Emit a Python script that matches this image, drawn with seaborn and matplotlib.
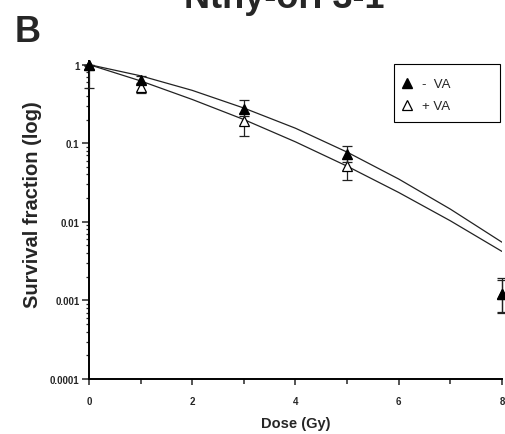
import matplotlib
matplotlib.use("Agg")
import matplotlib.pyplot as plt
from matplotlib.lines import Line2D
from matplotlib.patches import Rectangle
from matplotlib.ticker import LogLocator, NullFormatter, MultipleLocator
import seaborn as sns

sns.set_style("ticks")
plt.rcParams['font.family'] = ['Liberation Sans', 'DejaVu Sans']
narrow = ['Liberation Sans Narrow', 'Liberation Sans', 'DejaVu Sans']

# measured points (mean, lower / upper error)
dose = [0, 1, 3, 5, 8]
minus_va = [1.0, 0.64, 0.27, 0.073, 0.00122]
minus_lo = [0.04, 0.07, 0.05, 0.015, 0.0005]
minus_hi = [0.0, 0.07, 0.08, 0.02, 0.0007]
plus_va = [1.0, 0.52, 0.19, 0.051, 0.0012]
plus_lo = [0.5, 0.08, 0.065, 0.017, 0.0005]
plus_hi = [0.0, 0.06, 0.05, 0.012, 0.0006]

# fitted curves at each Gy
fit_dose = [0, 1, 2, 3, 4, 5, 6, 7, 8]
fit_minus = [1.0, 0.72, 0.47, 0.28, 0.155, 0.077, 0.035, 0.0145, 0.0055]
fit_plus = [1.0, 0.62, 0.36, 0.20, 0.104, 0.051, 0.0236, 0.0103, 0.0042]

yticks = [1, 0.1, 0.01, 0.001, 0.0001]
ytick_labels = ['1', '0.1', '0.01', '0.001', '0.0001']
xticks = [0, 2, 4, 6, 8]

fig = plt.figure(figsize=(5.05, 4.35), dpi=100)
ax = fig.add_axes([0.1762, 0.1264, 0.8178, 0.731])

sns.lineplot(x=fit_dose, y=fit_minus, ax=ax, color='#222222', lw=0.9)
sns.lineplot(x=fit_dose, y=fit_plus, ax=ax, color='#222222', lw=0.9)

# +VA first so the filled triangles sit on top
ax.errorbar(dose, plus_va, yerr=[plus_lo, plus_hi], fmt='^', ms=7, mfc='white',
            mec='black', mew=0.9, ecolor='#222222', elinewidth=0.9, capsize=3.6,
            capthick=0.9, clip_on=False, zorder=3)
ax.errorbar(dose, minus_va, yerr=[minus_lo, minus_hi], fmt='^', ms=7, mfc='black',
            mec='black', mew=0.9, ecolor='#222222', elinewidth=0.9, capsize=3.6,
            capthick=0.9, clip_on=False, zorder=4)

ax.set_yscale('log')
ax.set_ylim(1e-4, 1.11)
ax.set_xlim(0, 8)
ax.set_yticks(yticks)
ax.set_yticklabels(ytick_labels)
ax.yaxis.set_minor_locator(LogLocator(base=10, subs=range(2, 10)))
ax.yaxis.set_minor_formatter(NullFormatter())
ax.set_xticks(xticks)
ax.xaxis.set_minor_locator(MultipleLocator(1))

for lab in ax.get_xticklabels() + ax.get_yticklabels():
    lab.set_family(narrow)
    lab.set_fontweight('bold')
    lab.set_fontsize(7)

ax.tick_params(axis='y', which='major', length=5.4, width=1.1, pad=1.5, direction='out')
ax.tick_params(axis='y', which='minor', length=2.4, width=0.9, direction='out')
ax.tick_params(axis='x', which='major', length=4.3, width=1.1, pad=8, direction='out')
ax.tick_params(axis='x', which='minor', length=3.4, width=1.1, direction='out')

sns.despine(ax=ax)
for side in ['left', 'bottom']:
    ax.spines[side].set_linewidth(1.4)
    ax.spines[side].set_color('black')

ax.set_xlabel('Dose (Gy)', family=narrow, fontweight='bold', fontsize=10.5, labelpad=7)
fig.text(33 / 505, 1 - 205 / 435, 'Survival fraction (log)', rotation=90,
         ha='center', va='center', fontsize=14.5, fontweight='bold')

# legend box
ax.add_patch(Rectangle((0.7385, 0.808), 0.2565, 0.1826, transform=ax.transAxes,
                       fill=False, lw=0.8, edgecolor='black', clip_on=False))
handles = [Line2D([], [], ls='none', marker='^', ms=7, mfc='black', mec='black'),
           Line2D([], [], ls='none', marker='^', ms=7, mfc='white', mec='black', mew=0.9)]
ax.legend(handles, ['-  VA', '+ VA'], loc='upper left', bbox_to_anchor=(0.745, 0.955),
          frameon=False, fontsize=9.5, handlelength=1.2, handletextpad=0.5,
          labelspacing=0.75, borderpad=0.2, borderaxespad=0)

fig.text(15 / 505, 1 - 42 / 435, 'B', ha='left', va='baseline',
         fontsize=26, fontweight='bold')
fig.text(284 / 505, 1 - 8 / 435, 'Nthy-ori 3-1', ha='center', va='baseline',
         fontsize=26, fontweight='bold')

fig.savefig('out.png', dpi=100)
